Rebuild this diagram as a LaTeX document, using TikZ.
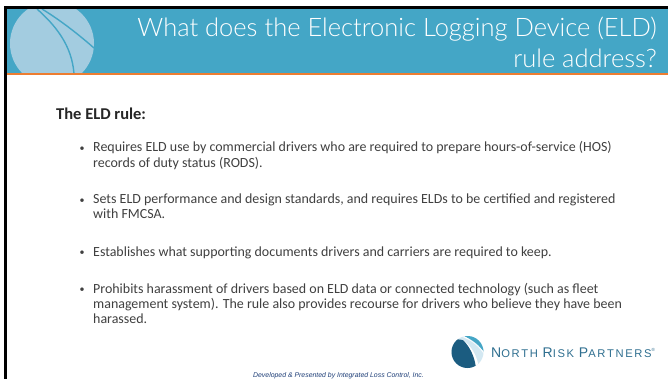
\documentclass[tikz,border=0pt]{standalone}
\usepackage{fontspec}
\setmainfont{Carlito}
\newfontfamily\titlefont{Lato Light}
\newfontfamily\footfont{Liberation Sans}
\newfontfamily\logofont[LetterSpace=15]{Liberation Sans}
\definecolor{teal1}{HTML}{44A6C6}
\definecolor{pale}{HTML}{A3CCE0}
\definecolor{orange1}{HTML}{ED7D31}
\definecolor{navy1}{HTML}{1B5C80}
\definecolor{lightlogo}{HTML}{D3E8F2}
\definecolor{logotext}{HTML}{2F6F90}
\definecolor{bodygrey}{HTML}{404040}
\definecolor{footblue}{HTML}{1F3F78}
\tikzset{
  titletext/.style={anchor=base east,text=white,font=\titlefont\fontsize{25.5}{28}\selectfont,inner sep=0pt},
  bodyline/.style={anchor=base west,text=bodygrey,font=\fontsize{13.95}{15}\selectfont,inner sep=0pt},
}
\begin{document}
\begin{tikzpicture}[x=1pt,y=-1pt]
\useasboundingbox (0,0) rectangle (668,379);
\fill[white] (0,0) rectangle (668,379);
% header
\fill[teal1] (5,9) rectangle (668,74);
\begin{scope}
\clip (5,9) rectangle (668,73);
\fill[pale] (52,43.5) circle (42);
\draw[teal1,line width=1.4pt] (37,9) .. controls (55,25) and (72,45) .. (74,74);
\draw[teal1,line width=1.4pt] (42,9) .. controls (60,20) and (78,34) .. (94,48);
\end{scope}
\fill[orange1] (5,73) rectangle (668,75);
\fill[black] (4,6.5) rectangle (668,9);
\fill[black] (4,6.5) rectangle (7,379);
\node[titletext] (t1) at (657,36.7) {What does the Electronic Logging Device (ELD)};
\node[titletext] (t2) at (657,67.6) {rule address?};
% body
\node[bodyline,text=black!85,font=\fontsize{16.5}{18}\selectfont\bfseries] (h) at (56,120) {The ELD rule:};
\foreach \n/\x/\y/\s in {
 a/93/152/{Requires ELD use by commercial drivers who are required to prepare hours-of-service (HOS)},
 b/93/167.5/{records of duty status (RODS).},
 c/93/204/{Sets ELD performance and design standards, and requires ELDs to be certified and registered},
 d/93/218.5/{with FMCSA.},
 e/93/256/{Establishes what supporting documents drivers and carriers are required to keep.},
 f/93/293/{Prohibits harassment of drivers based on ELD data or connected technology (such as fleet},
 g/93/308/{management system). The rule also provides recourse for drivers who believe they have been},
 h2/93/323/{harassed.}}
 {\node[bodyline] (\n) at (\x,\y) {\s};}
\foreach \n/\y in {ba/152,bb/204,bc/256,bd/293}
 {\node[bodyline,font=\fontsize{10}{10}\selectfont] (\n) at (79.5,\y-0.5) {•};}
% logo
\begin{scope}
\clip (467.5,352) circle (16);
\fill[lightlogo] (450,335) rectangle (485,369);
\fill[teal1] (462,335.5) .. controls (472,339) and (480,345) .. (484.5,353.5) -- (490,335) -- cycle;
\fill[white] (460,336) .. controls (472,340) and (480,347) .. (485,356) -- (484,352) .. controls (478,345) and (470,339) .. (462,335) -- cycle;
\fill[white] (462,339) .. controls (470,345) and (478,355) .. (479,370) -- (470,370) -- (462,340) -- cycle;
\fill[navy1] (463,340) .. controls (469,346) and (475,356) .. (476,369) -- (448,369) -- (448,338) -- cycle;
\end{scope}
\node[anchor=base west,inner sep=0pt,text=logotext,font=\logofont\fontsize{14}{14}\selectfont] (logo) at (491,357) {N\fontsize{11.2}{12}\selectfont ORTH \fontsize{14}{14}\selectfont R\fontsize{11.2}{12}\selectfont ISK \fontsize{14}{14}\selectfont P\fontsize{11.2}{12}\selectfont ARTNERS\fontsize{4.5}{4}\selectfont\raisebox{5.5pt}{®}};
% footer
\node[anchor=base,inner sep=0pt,text=footblue,font=\footfont\itshape\fontsize{6.9}{7}\selectfont] (foot) at (338.5,377.7) {Developed \& Presented by Integrated Loss Control, Inc.};
\end{tikzpicture}
\end{document}
